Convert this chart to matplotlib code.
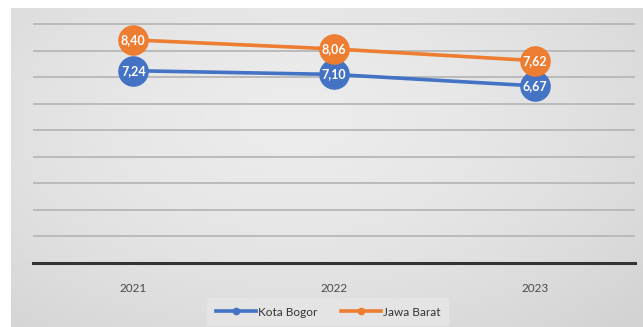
import numpy as np
import matplotlib
matplotlib.use("Agg")
import matplotlib.pyplot as plt
from matplotlib.lines import Line2D

years = ["2021", "2022", "2023"]
kota_bogor = [7.24, 7.10, 6.67]
jawa_barat = [8.40, 8.06, 7.62]
series_names = ["Kota Bogor", "Jawa Barat"]
series_colors = ["#4472C4", "#ED7D31"]

W, H = 643, 327
fig = plt.figure(figsize=(W / 100, H / 100), dpi=100)
fig.patch.set_facecolor("white")

# soft gray panel behind the chart
bg = fig.add_axes([11 / W, 0, 1 - 11 / W, (H - 8) / H], zorder=0)
ny, nx = 200, 400
yy, xx = np.mgrid[0:ny, 0:nx]
dx = (xx / nx - 0.45) / 0.75
dy = (yy / ny - 0.35) / 0.9
r = np.clip(np.sqrt(dx ** 2 + dy ** 2), 0, 1)
shade = 0.925 - 0.10 * r ** 1.6
bg.imshow(np.dstack([shade] * 3), aspect="auto", extent=[0, 1, 0, 1],
          interpolation="bilinear")
bg.set_axis_off()

ax = fig.add_axes([33 / W, (H - 263) / H, (635 - 33) / W, (263 - 16) / H], zorder=1)
ax.patch.set_alpha(0)
x = np.arange(len(years))
ax.set_xlim(-0.5, 2.5)
ax.set_ylim(0, 9.3)
ax.set_yticks(np.arange(1, 10))
ax.yaxis.grid(True, color="#bababa", linewidth=1.4)
ax.set_axisbelow(True)
for s in ["top", "right", "left"]:
    ax.spines[s].set_visible(False)
ax.spines["bottom"].set_color("#333333")
ax.spines["bottom"].set_linewidth(2.2)
ax.tick_params(axis="y", left=False, labelleft=False)
ax.tick_params(axis="x", bottom=False, pad=11, labelsize=8.5, labelcolor="#4a4a4a")
ax.set_xticks(x)
ax.set_xticklabels(years, fontfamily="Lato")

for vals, color in zip([kota_bogor, jawa_barat], series_colors):
    ax.plot(x, vals, color=color, linewidth=2.6, marker="o", markersize=21,
            markerfacecolor=color, markeredgecolor=color, zorder=3,
            clip_on=False)
    for xi, v in zip(x, vals):
        ax.text(xi, v, f"{v:.2f}".replace(".", ","), ha="center", va="center",
                color="white", fontsize=9, fontweight="bold",
                fontfamily="Lato", zorder=4)

handles = [Line2D([], [], color=c, linewidth=2.6, marker="o", markersize=4.5)
           for c in series_colors]
leg = fig.legend(handles, series_names, loc="center", bbox_to_anchor=(328 / W, (H - 312) / H),
                 ncol=2, frameon=True, handlelength=3.4,
                 columnspacing=2.0, handletextpad=0.15, borderpad=0.45,
                 prop={"family": "Lato", "size": 8.5})
leg.get_frame().set_facecolor("#e4e4e4")
leg.get_frame().set_edgecolor("none")
leg.get_frame().set_alpha(1)
leg.get_frame().set_boxstyle("square", pad=0.3)
for t in leg.get_texts():
    t.set_color("#333333")

fig.savefig("out.png", dpi=100)
